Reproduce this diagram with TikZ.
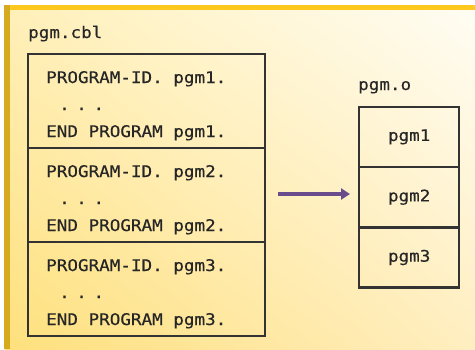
\documentclass[tikz,border=0pt]{standalone}
\usepackage{fontspec}
\newfontfamily\mono[FakeStretch=1.1,FakeBold=0.4]{DejaVu Sans Mono}
\usetikzlibrary{arrows.meta,shadings}
\definecolor{bgLL}{HTML}{FEE07C}
\definecolor{bgUL}{HTML}{FFF0BA}
\definecolor{bgUR}{HTML}{FFFDF4}
\definecolor{bgLR}{HTML}{FFEEC0}
\definecolor{topbar}{HTML}{FFC81E}
\definecolor{leftbar}{HTML}{D6AA1E}
\definecolor{boxline}{HTML}{333333}
\definecolor{textc}{HTML}{262626}
\definecolor{arrowc}{HTML}{6A4C8C}
\tikzset{
  codetext/.style={anchor=base west, inner sep=0pt, text=textc, font=\mono\fontsize{16}{16}\selectfont},
  labeltext/.style={anchor=base west, inner sep=0pt, text=textc, font=\mono\fontsize{16}{16}\selectfont},
  celltext/.style={inner sep=0pt, text=textc, font=\mono\fontsize{16}{16}\selectfont},
  section/.style={draw=boxline, line width=2.4pt, minimum width=237pt, minimum height=94pt, inner sep=0pt, anchor=north west},
  cell/.style={draw=boxline, line width=2.4pt, minimum width=100pt, minimum height=60.3pt, inner sep=0pt, anchor=north west},
  flow/.style={draw=arrowc, line width=4pt, -{Triangle[length=9pt,width=11pt]}},
}
\begin{document}
\begin{tikzpicture}[x=1pt,y=-1pt]
\useasboundingbox (0,0) rectangle (475,349);
\fill[white] (0,0) rectangle (475,349);
\shade[lower left=bgLL, upper left=bgUL, upper right=bgUR, lower right=bgLR] (5,5) rectangle (475,349);
\fill[topbar] (5,5) rectangle (475,9.5);
\fill[leftbar] (4,5) rectangle (9.5,349);

\node[labeltext] (cbl) at (28,38) {pgm.cbl};
\node[labeltext] (obj) at (358,90) {pgm.o};

% left sections
\node[section] (s1) at (27,53) {};
\node[section] (s2) at (27,147) {};
\node[section] (s3) at (27,241) {};

\foreach \i/\y in {1/53,2/147,3/241}{
  \node[codetext] (pid\i) at (46,\y+30) {PROGRAM-ID. pgm\i.};
  \node[codetext] (dots\i) at (59,\y+57) {.\hspace{6.5pt}.\hspace{6.5pt}.};
  \node[codetext] (end\i) at (46,\y+84) {END PROGRAM pgm\i.};
}

% right cells
\node[cell] (c1) at (358,105.5) {};
\node[cell] (c2) at (358,165.8) {};
\node[cell] (c3) at (358,226.1) {};
\node[celltext] at (c1) {pgm1};
\node[celltext] at (c2) {pgm2};
\node[celltext] at (c3) {pgm3};

\coordinate (a0) at (278,194);
\coordinate (a1) at (350,194);
\draw[flow] (a0) -- (a1);
\end{tikzpicture}
\end{document}
